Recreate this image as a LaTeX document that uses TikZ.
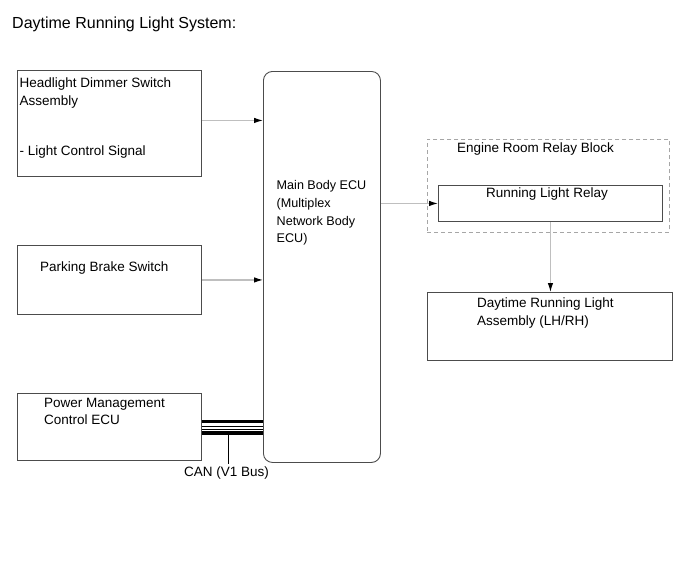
\documentclass[tikz,border=0pt]{standalone}
\usepackage{fontspec}
\setmainfont{Liberation Sans}
\usetikzlibrary{arrows.meta}
\tikzset{
  blk/.style={draw=black!70, line width=0.9pt, inner sep=0, anchor=north west},
  txt/.style={font=\fontsize{13.5}{17.5}\selectfont, inner sep=0, align=left},
  sig/.style={draw=black!25, line width=1.1pt, -{Latex[black,length=9pt,width=5.5pt]}},
}
\begin{document}
\begin{tikzpicture}[x=1pt,y=-1pt]
\useasboundingbox (0,0) rectangle (690,562);
\node[txt,font=\fontsize{16}{19}\selectfont,anchor=west] (ttl) at (12,24) {Daytime Running Light System:};
% left column
\node[blk,minimum width=184pt,minimum height=106pt] (hds) at (17,70) {};
\node[blk,minimum width=184pt,minimum height=69pt] (pbs) at (17,245) {};
\node[blk,minimum width=184pt,minimum height=67pt] (pmc) at (17,393) {};
\node[txt,anchor=north west] (hdst) at (19.5,78) {Headlight Dimmer Switch\\Assembly};
\node[txt,anchor=base west] (lcs) at (19.5,155) {- Light Control Signal};
\node[txt,anchor=base west] (pbst) at (40,271.5) {Parking Brake Switch};
\node[txt,anchor=north west] (pmct) at (44,398) {Power Management\\Control ECU};
% main body ecu
\node[blk,rounded corners=9pt,minimum width=117pt,minimum height=391pt] (ecu) at (263,71) {};
\node[txt,font=\fontsize{12.6}{17.7}\selectfont,anchor=north west] (ecut) at (276.5,180.5) {Main Body ECU\\(Multiplex\\Network Body\\ECU)};
% relay block and lamp
\node[blk,draw=black!35,dash pattern=on 4pt off 3pt,minimum width=242pt,minimum height=93pt] (erb) at (427,139) {};
\node[txt,anchor=west] (erbt) at (457,149) {Engine Room Relay Block};
\node[blk,minimum width=224pt,minimum height=36pt] (rly) at (438,185) {};
\node[txt] (rlyt) at (547,194) {Running Light Relay};
\node[blk,minimum width=245pt,minimum height=68pt] (drl) at (427,292) {};
\node[txt,anchor=north west] (drlt) at (477,298) {Daytime Running Light\\Assembly (LH/RH)};
% signals
\draw[sig] ([yshift=3pt]hds.east) -- ([yshift=3pt]hds.east -| ecu.west);
\draw[sig] (pbs.east) -- (pbs.east -| ecu.west);
\draw[sig] (rly.west -| ecu.east) -- (rly.west);
\draw[sig] (rly.south) -- (rly.south |- drl.north);
% CAN bus
\foreach \dy/\w in {-6/3.2,-2.5/0.8,1/0.8,5.5/3.2}
  \draw[line width=\w pt] ([yshift=\dy pt]pmc.east) -- ([yshift=\dy pt]pmc.east -| ecu.west);
\coordinate (cantap) at (228,433);
\node[txt] (canl) at (226.5,472.5) {CAN (V1 Bus)};
\draw[line width=0.9pt,shorten >=2.5pt] (cantap) -- (cantap |- canl.north);
\end{tikzpicture}
\end{document}
